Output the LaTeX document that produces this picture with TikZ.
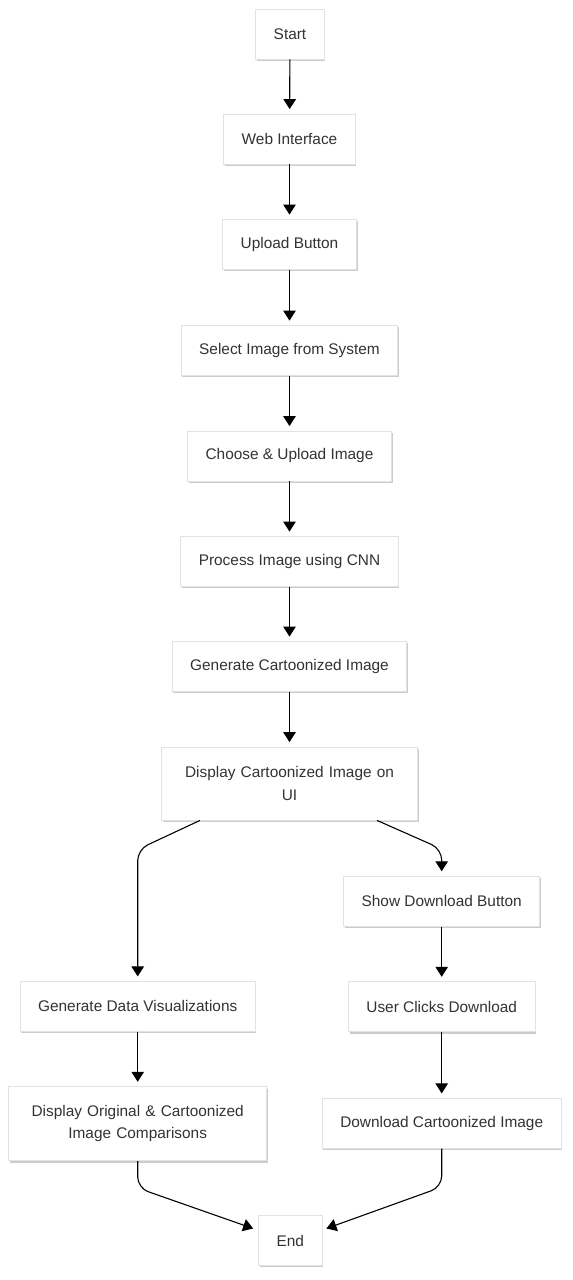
\documentclass[tikz,border=0pt]{standalone}
\usepackage{fontspec}
\setmainfont{Liberation Sans}
\usetikzlibrary{arrows.meta,shadows,calc}
\definecolor{txt}{HTML}{333333}
\definecolor{bord}{HTML}{E2E2E2}
\tikzset{
  box/.style={draw=bord, line width=0.8pt, fill=white, text=txt,
    font=\fontsize{15.4}{22.3}\selectfont, inner xsep=18pt, inner ysep=0pt,
    minimum height=50pt,
    drop shadow={shadow xshift=1.2pt, shadow yshift=-1.8pt, fill=black!22, opacity=0.9}},
  arr/.style={-{Triangle[length=10pt,width=12.5pt]}, line width=1.1pt, draw=black, shorten >=4.5pt},
}
\begin{document}
\begin{tikzpicture}[x=1pt,y=-1pt]
\useasboundingbox (0,0) rectangle (573,1280);
\node[box] (start) at (290,34) {Start};
\node[box] (web) at (289.5,139) {Web Interface};
\node[box] (upl) at (289.5,244.5) {Upload Button};
\node[box] (sel) at (289.5,350.5) {Select Image from System};
\node[box] (cho) at (289.5,456) {Choose \& Upload Image};
\node[box] (pro) at (289.5,561.5) {Process Image using CNN};
\node[box] (gen) at (289.5,666.5) {Generate Cartoonized Image};
\node[box, text width=220pt, align=center, minimum height=73pt] (dis) at (289.5,783.5) {Display Cartoonized Image on\\UI};
\node[box] (gdv) at (137.7,1006.3) {Generate Data Visualizations};
\node[box, text width=222pt, align=center, minimum height=74pt] (dor) at (137.7,1123.7) {Display Original \& Cartoonized\\Image Comparisons};
\node[box] (sdb) at (441.7,901.2) {Show Download Button};
\node[box] (ucd) at (441.7,1006.7) {User Clicks Download};
\node[box] (dci) at (441.7,1123.3) {Download Cartoonized Image};
\node[box] (endn) at (290.3,1240.5) {End};

\draw[arr] (start) -- (web);
\draw[arr] (web) -- (upl);
\draw[arr] (upl) -- (sel);
\draw[arr] (sel) -- (cho);
\draw[arr] (cho) -- (pro);
\draw[arr] (pro) -- (gen);
\draw[arr] (gen) -- (dis);
\draw[arr, rounded corners=11pt] ($(dis.south)+(-89.5,0)$) -- (gdv.north |- 0,849.5) -- (gdv.north);
\draw[arr, rounded corners=11pt] ($(dis.south)+(87.5,0)$) -- (sdb.north |- 0,849) -- (sdb.north);
\draw[arr] (gdv) -- (dor);
\draw[arr] (sdb) -- (ucd);
\draw[arr] (ucd) -- (dci);
\draw[arr, rounded corners=11pt, shorten >=0pt] (dor.south) -- (dor.south |- 0,1188) -- ($(endn.west)+(-5,-12)$);
\draw[arr, rounded corners=11pt, shorten >=0pt] (dci.south) -- (dci.south |- 0,1187) -- ($(endn.east)+(4,-12)$);
\end{tikzpicture}
\end{document}
